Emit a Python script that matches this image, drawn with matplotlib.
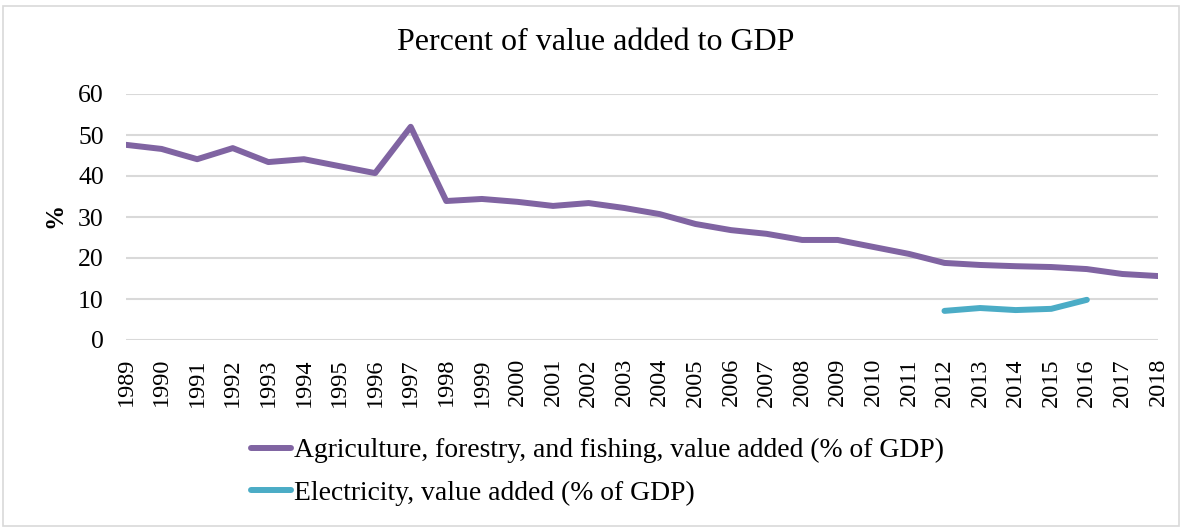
import matplotlib
matplotlib.use("Agg")
from matplotlib import pyplot as plt
from matplotlib.patches import Rectangle

plt.rcParams['font.family'] = ['Liberation Serif', 'DejaVu Serif']

years = list(range(1989, 2019))
agriculture = [47.6, 46.6, 44.1, 46.8, 43.4, 44.1, 42.4, 40.7, 52.0, 33.9,
               34.4, 33.7, 32.7, 33.4, 32.2, 30.7, 28.3, 26.8, 25.9, 24.4,
               24.4, 22.7, 21.0, 18.8, 18.3, 18.0, 17.8, 17.3, 16.1, 15.6]
elec_years = [2012, 2013, 2014, 2015, 2016]
electricity = [7.1, 7.8, 7.3, 7.6, 9.8]

fig = plt.figure(figsize=(11.82, 5.27), dpi=100)
ax = fig.add_axes([126 / 1182, 1 - 340 / 527, (1158 - 126) / 1182, (340 - 94) / 527])

ax.plot(years, agriculture, color='#8064A2', lw=4.3, solid_capstyle='round',
        label='Agriculture, forestry, and fishing, value added (% of GDP)')
ax.plot(elec_years, electricity, color='#4BACC6', lw=4.3, solid_capstyle='round',
        label='Electricity, value added (% of GDP)')

ax.set_xlim(1989, 2018)
ax.set_ylim(0, 60)
ax.set_yticks(range(0, 61, 10))
ax.set_xticks(years)
ax.set_xticklabels([str(y) for y in years], rotation=90)
ax.tick_params(axis='x', length=0, labelsize=17.5, pad=13)
ax.tick_params(axis='y', length=0, labelsize=18.5, pad=16)
ax.grid(axis='y', color='#d9d9d9', lw=1.5)
ax.set_axisbelow(True)
for s in ax.spines.values():
    s.set_visible(False)

fig.text(55 / 1182, 1 - 215 / 527, '%', rotation=90, ha='center', va='center',
         fontsize=18, fontweight='bold')
fig.text(596 / 1182, 1 - 43 / 527, 'Percent of value added to GDP', ha='center', va='center',
         fontsize=23)

fig.legend(loc='upper left', bbox_to_anchor=(240 / 1182, 1 - 427 / 527), frameon=False,
           fontsize=19.9, handlelength=1.45, handletextpad=0.1, labelspacing=0.62,
           borderaxespad=0)

fig.patches.append(Rectangle((3 / 1182, 0.002), 1 - 6 / 1182, 1 - 7 / 527,
                             transform=fig.transFigure, fill=False, ec='#d9d9d9', lw=1.2))

fig.savefig('out.png', dpi=100)
